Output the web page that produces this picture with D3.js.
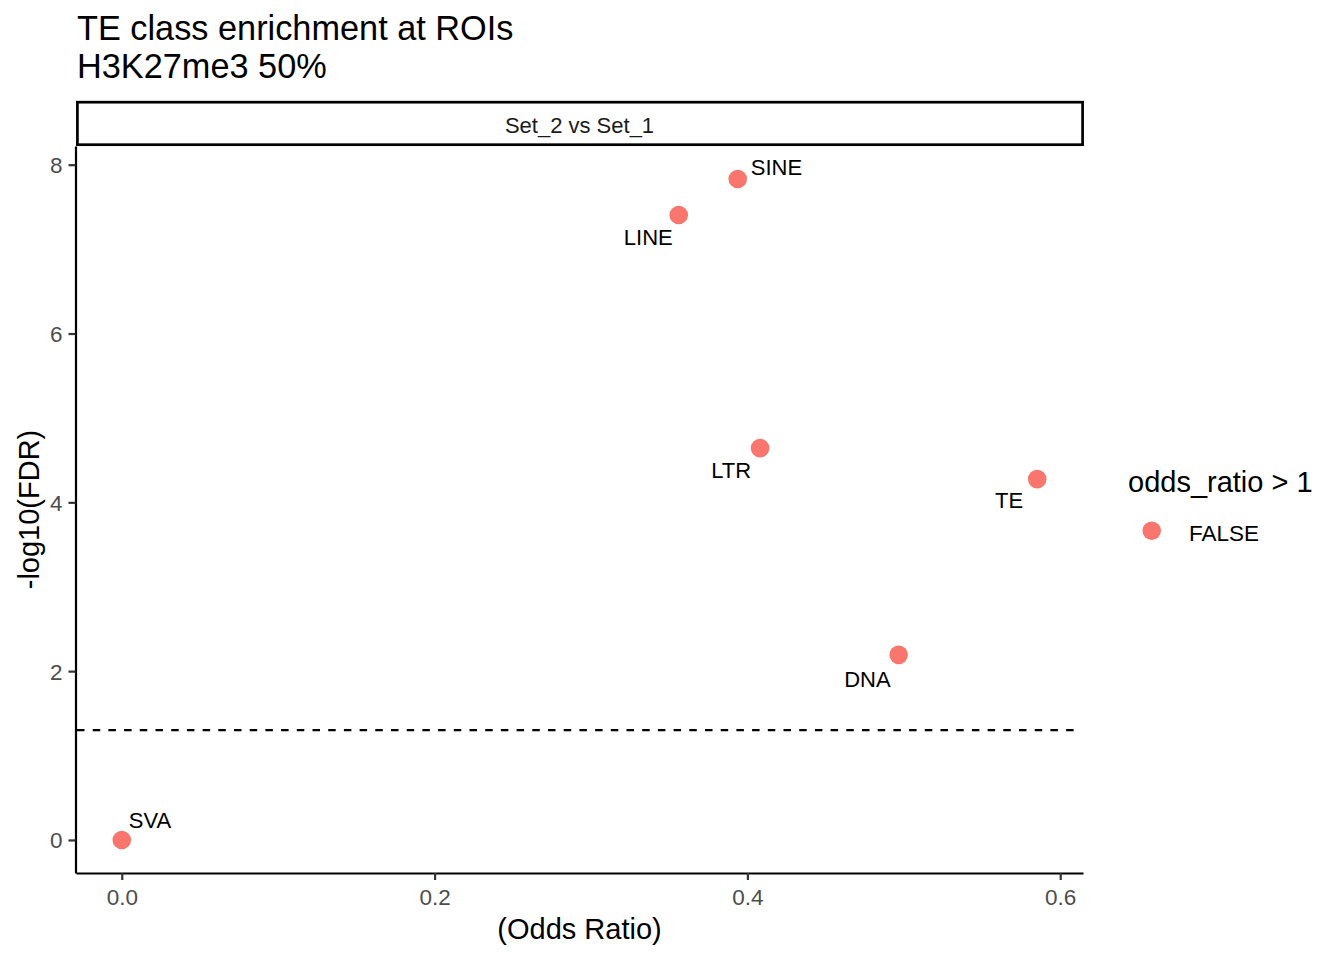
<!DOCTYPE html>
<html>
<head>
<meta charset="utf-8">
<script src="https://cdn.jsdelivr.net/npm/d3@7"></script>
<style>
  html, body { margin: 0; padding: 0; background: #fff; }
  svg { display: block; font-family: "Liberation Sans", Arial, sans-serif; }
</style>
</head>
<body>
<svg id="chart" width="1344" height="960"></svg>
<script>
// ---- data ----
const teClass   = ["SVA", "LINE", "SINE", "LTR", "TE", "DNA"];
const oddsRatio = [0.000, 0.3561, 0.3938, 0.4081, 0.5853, 0.4967];
const negLogFDR = [0.000, 7.404, 7.830, 4.642, 4.275, 2.193];
const xTicks = [0.0, 0.2, 0.4, 0.6];
const yTicks = [0, 2, 4, 6, 8];
const fdrThreshold = 0.05;
const legendLevels = ["FALSE"];
const facetLabel = "Set_2 vs Set_1";

// label placement (ggrepel-like nudges, in px relative to point)
const labelNudge = {
  SVA:  {dx: 7,   dy: -12, anchor: "start"},
  LINE: {dx: -6,  dy: 30,  anchor: "end"},
  SINE: {dx: 13,  dy: -4,  anchor: "start"},
  LTR:  {dx: -9,  dy: 30,  anchor: "end"},
  TE:   {dx: -14, dy: 29,  anchor: "end"},
  DNA:  {dx: -8,  dy: 32,  anchor: "end"}
};

const points = teClass.map((c, i) => ({cls: c, x: oddsRatio[i], y: negLogFDR[i]}));

// ---- layout ----
const svg = d3.select("#chart");
const panel = {left: 76, right: 1083, top: 146, bottom: 873};
const color = d3.scaleOrdinal().domain(legendLevels).range(["#F8766D"]);

function expand(ext) { const r = ext[1] - ext[0]; return [ext[0] - 0.05 * r, ext[1] + 0.05 * r]; }
const x = d3.scaleLinear().domain(expand(d3.extent(oddsRatio))).range([panel.left, panel.right]);
const y = d3.scaleLinear().domain(expand(d3.extent(negLogFDR))).range([panel.bottom, panel.top]);

// title
const title = svg.append("g").attr("font-size", 34.3).attr("fill", "#000");
title.append("text").attr("x", 77).attr("y", 40).text("TE class enrichment at ROIs");
title.append("text").attr("x", 77).attr("y", 78).text("H3K27me3 50%");

// strip
svg.append("rect")
  .attr("x", 77.4).attr("y", 102.2)
  .attr("width", 1082.6 - 77.4).attr("height", 144.7 - 102.2)
  .attr("fill", "#fff").attr("stroke", "#000").attr("stroke-width", 2.7);
svg.append("text")
  .attr("x", (panel.left + panel.right) / 2).attr("y", 133)
  .attr("text-anchor", "middle").attr("font-size", 22).attr("fill", "#1A1A1A")
  .text(facetLabel);

// threshold line
svg.append("line")
  .attr("x1", panel.left + 1).attr("x2", panel.right - 5)
  .attr("y1", y(-Math.log10(fdrThreshold))).attr("y2", y(-Math.log10(fdrThreshold)))
  .attr("stroke", "#000").attr("stroke-width", 2.2)
  .attr("stroke-dasharray", "7.5 8.2");

// axes
const xAxis = svg.append("g").attr("transform", `translate(0,${panel.bottom})`)
  .call(d3.axisBottom(x).tickValues(xTicks).tickFormat(d3.format(".1f")).tickSize(7).tickSizeOuter(0).tickPadding(9));
const yAxis = svg.append("g").attr("transform", `translate(${panel.left - 0.5},0)`)
  .call(d3.axisLeft(y).tickValues(yTicks).tickFormat(d3.format("d")).tickSize(7).tickSizeOuter(0).tickPadding(6));
[xAxis, yAxis].forEach(g => {
  g.select(".domain").attr("stroke", "#000").attr("stroke-width", 2.2);
  g.selectAll(".tick line").attr("stroke", "#333333").attr("stroke-width", 2.2);
  g.selectAll(".tick text").attr("fill", "#4D4D4D").attr("font-size", 22.5)
    .attr("font-family", "Liberation Sans, Arial, sans-serif");
});
xAxis.selectAll(".tick text").attr("dy", "0.71em");
yAxis.selectAll(".tick text").attr("dy", "0.35em");

// axis titles
svg.append("text")
  .attr("x", (panel.left + panel.right) / 2).attr("y", 939)
  .attr("text-anchor", "middle").attr("font-size", 29).attr("fill", "#000")
  .text("(Odds Ratio)");
svg.append("text")
  .attr("transform", `translate(39,${(panel.top + panel.bottom) / 2}) rotate(-90)`)
  .attr("text-anchor", "middle").attr("font-size", 29).attr("fill", "#000")
  .text("-log10(FDR)");

// points
svg.append("g").selectAll("circle").data(points).join("circle")
  .attr("cx", d => x(d.x)).attr("cy", d => y(d.y)).attr("r", 9.3)
  .attr("fill", d => color(String(d.x > 1).toUpperCase()));

// labels
svg.append("g").selectAll("text").data(points).join("text")
  .attr("x", d => x(d.x) + labelNudge[d.cls].dx)
  .attr("y", d => y(d.y) + labelNudge[d.cls].dy)
  .attr("text-anchor", d => labelNudge[d.cls].anchor)
  .attr("font-size", 22).attr("fill", "#000")
  .text(d => d.cls);

// legend
const legend = svg.append("g");
legend.append("text").attr("x", 1128).attr("y", 491.5)
  .attr("font-size", 29).attr("fill", "#000").text("odds_ratio > 1");
const items = legend.selectAll("g.item").data(legendLevels).join("g").attr("class", "item")
  .attr("transform", (d, i) => `translate(0,${i * 40})`);
items.append("circle").attr("cx", 1151.7).attr("cy", 530.7).attr("r", 9.3).attr("fill", d => color(d));
items.append("text").attr("x", 1189).attr("y", 540.5).attr("font-size", 22.5).attr("fill", "#000").text(d => d);
</script>
</body>
</html>
